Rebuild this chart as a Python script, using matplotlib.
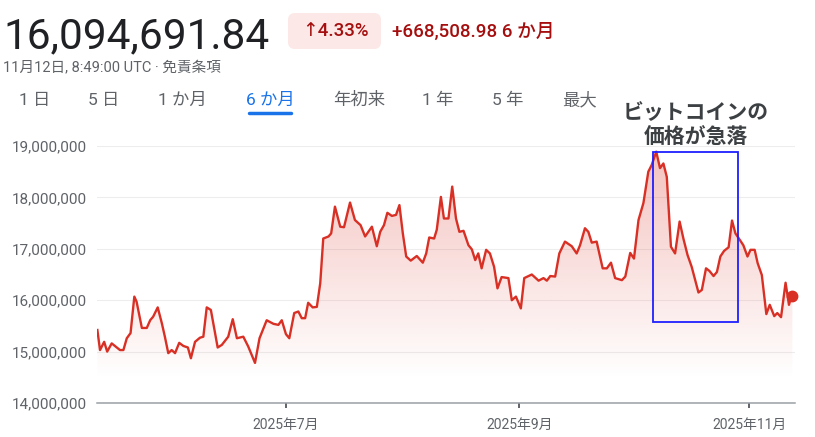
import matplotlib
matplotlib.use("Agg")
import matplotlib.pyplot as plt
import matplotlib.dates as mdates
import numpy as np
import pandas as pd
from matplotlib.patches import FancyBboxPatch, Rectangle
from matplotlib.transforms import IdentityTransform

plt.rcParams['font.family'] = ['Roboto', 'Noto Sans CJK JP', 'DejaVu Sans']

# ---------------- data ----------------
START_DATE = "2025-05-12"
# days since START_DATE
days = [0.1, 0.8, 1.9, 2.7, 3.9, 6.1, 7.0, 7.9, 8.9, 9.9, 10.5, 11.9, 13.2, 14.1, 14.9,
        16.1, 17.2, 18.0, 18.9, 19.8, 20.7, 21.8, 22.9, 24.1, 24.9, 26.0, 27.3, 28.2,
        29.1, 30.2, 32.0, 33.1, 34.8, 36.0, 37.1, 38.8, 40.1, 41.9, 43.1, 45.0, 46.8,
        48.1, 49.0, 50.1, 51.0, 52.3, 53.4, 54.3, 55.2, 56.0, 57.2, 58.3, 59.2, 60.0,
        61.4, 62.1, 63.1, 64.5, 65.5, 67.1, 68.4, 69.9, 71.1, 72.9, 74.2, 75.1, 76.1,
        77.0, 78.2, 79.3, 80.2, 81.1, 82.0, 83.2, 84.8, 86.4, 87.3, 88.1, 89.4, 90.1,
        91.2, 92.0, 93.2, 94.2, 95.2, 96.1, 97.2, 98.5, 99.4, 100.3, 101.1, 102.0,
        103.2, 104.2, 105.3, 106.2, 107.3, 109.1, 110.0, 111.1, 112.4, 113.3, 115.3,
        117.1, 118.4, 119.3, 120.2, 121.5, 122.6, 124.1, 125.9, 127.2, 128.1, 129.4,
        130.3, 131.2, 132.5, 134.1, 135.2, 136.3, 137.4, 139.2, 140.1, 141.4, 142.4,
        143.6, 144.9, 146.2, 147.1, 148.3, 149.3, 150.2, 151.1, 152.2, 153.3, 154.5,
        155.5, 156.6, 157.7, 159.5, 160.4, 161.5, 162.4, 163.5, 164.4, 165.3, 166.3,
        167.5, 168.4, 169.3, 170.2, 171.4, 172.5, 173.3, 174.4, 175.2, 176.3, 177.5,
        178.4, 179.6, 180.4, 181.4, 182.6, 183.5, 184.0, 184.4]
# price in millions
prices_m = [15.42, 15.03, 15.19, 15.00, 15.16, 15.03, 15.03, 15.26, 15.36, 16.07, 15.97,
            15.46, 15.46, 15.61, 15.68, 15.86, 15.55, 15.29, 14.97, 15.03, 14.97, 15.17,
            15.11, 15.08, 14.87, 15.19, 15.27, 15.29, 15.86, 15.81, 15.08, 15.13, 15.29,
            15.63, 15.26, 15.29, 15.10, 14.78, 15.26, 15.61, 15.54, 15.52, 15.61, 15.34,
            15.26, 15.75, 15.78, 15.65, 15.65, 15.95, 15.86, 15.87, 16.33, 17.20, 17.24,
            17.30, 17.82, 17.43, 17.42, 17.90, 17.56, 17.46, 17.24, 17.43, 17.05, 17.33,
            17.46, 17.70, 17.64, 17.66, 17.85, 17.30, 16.85, 16.77, 16.86, 16.73, 16.91,
            17.22, 17.20, 17.37, 18.01, 17.59, 17.59, 18.21, 17.59, 17.33, 17.35, 17.07,
            16.99, 16.78, 16.91, 16.62, 16.98, 16.91, 16.65, 16.23, 16.45, 16.43, 16.00,
            16.07, 15.84, 16.43, 16.50, 16.38, 16.43, 16.38, 16.47, 16.46, 16.91, 17.14,
            17.05, 16.91, 17.07, 17.40, 17.33, 17.12, 17.14, 16.62, 16.62, 16.73, 16.43,
            16.39, 16.46, 16.92, 16.81, 17.56, 17.89, 18.50, 18.63, 18.89, 18.57, 18.66,
            18.40, 17.04, 16.91, 17.53, 17.20, 16.88, 16.65, 16.15, 16.20, 16.62, 16.57,
            16.47, 16.55, 16.85, 16.96, 17.03, 17.55, 17.30, 17.20, 17.07, 16.85, 16.98,
            16.98, 16.72, 16.49, 15.73, 15.91, 15.69, 15.75, 15.67, 16.34, 15.91, 16.04,
            16.09]

y_ticks = [14_000_000, 15_000_000, 16_000_000, 17_000_000, 18_000_000, 19_000_000]
x_tick_dates = ["2025-07-01", "2025-09-01", "2025-11-01"]
x_tick_labels = ["2025年7月", "2025年9月", "2025年11月"]

price_text = "16,094,691.84"
change_pct_text = "↑4.33%"
change_abs_text = "+668,508.98 6 か月"
subtitle_text = "11月12日, 8:49:00 UTC · 免責条項"
tabs = ["1 日", "5 日", "1 か月", "6 か月", "年初来", "1 年", "5 年", "最大"]
selected_tab = "6 か月"
annotation_lines = ["ビットコインの", "価格が急落"]
# highlight box (days since start, price range)
box_days = (147.4, 169.9)
box_prices = (15_580_000, 18_890_000)

# ---------------- style ----------------
W, H = 815, 437
RED = "#d93025"
GRAY = "#5f6368"

fig = plt.figure(figsize=(W / 100, H / 100), dpi=100)
fig.patch.set_facecolor("white")

start = pd.Timestamp(START_DATE)
dates = start + pd.to_timedelta(days, unit="D")
x = mdates.date2num(dates.to_pydatetime())
prices = np.array(prices_m) * 1e6

ax = fig.add_axes([97 / W, (H - 403) / H, 698 / W, 257 / H])
x0 = mdates.date2num(start.to_pydatetime())
x1 = mdates.date2num((start + pd.Timedelta(days=185.1)).to_pydatetime())
ylo, yhi = 14_000_000, 19_000_000

# gradient fill under line
ny = 300
yy = np.linspace(ylo, yhi, ny)
alpha = np.clip((yy - 14.45e6) / (19e6 - 14.45e6), 0, 1) * 0.30
img = np.zeros((ny, 1, 4))
img[:, 0, 0] = 217 / 255
img[:, 0, 1] = 48 / 255
img[:, 0, 2] = 37 / 255
img[:, 0, 3] = alpha
im = ax.imshow(img, extent=[x0, x1, ylo, yhi], origin="lower", aspect="auto",
               zorder=1, interpolation="bilinear")
poly = ax.fill_between(x, prices, ylo, facecolor="none", edgecolor="none")
im.set_clip_path(poly.get_paths()[0], transform=ax.transData)

ax.plot(x, prices, color=RED, lw=1.7, solid_joinstyle="round", zorder=3)
ax.plot(x[-1], prices[-1], "o", ms=7.5, color=RED, zorder=4, clip_on=False)

# highlight box
bx0 = mdates.date2num((start + pd.Timedelta(days=box_days[0])).to_pydatetime())
bx1 = mdates.date2num((start + pd.Timedelta(days=box_days[1])).to_pydatetime())
ax.add_patch(Rectangle((bx0, box_prices[0]), bx1 - bx0, box_prices[1] - box_prices[0],
                       fill=False, edgecolor="#1f1fff", lw=1.3, zorder=5))

ax.set_xlim(x0, x1)
ax.set_ylim(ylo, yhi)

ax.set_yticks(y_ticks)
ax.set_yticklabels([f"{v:,}" for v in y_ticks])
ax.set_xticks([mdates.date2num(pd.Timestamp(d).to_pydatetime()) for d in x_tick_dates])
ax.set_xticklabels(x_tick_labels)

for s in ["top", "right", "left"]:
    ax.spines[s].set_visible(False)
ax.spines["bottom"].set_color("#9aa0a6")
ax.spines["bottom"].set_linewidth(1.1)
ax.yaxis.grid(True, color="#ededed", lw=0.8)
ax.set_axisbelow(True)
ax.tick_params(axis="y", length=0, pad=7, labelsize=11, labelcolor=GRAY)
ax.tick_params(axis="x", length=3.6, width=1.4, color=GRAY, pad=7.5, labelsize=10,
               labelcolor=GRAY)
ax.set_facecolor("none")


def fx(px):
    return px / W


def fy(py):
    return 1 - py / H


# header
fig.text(fx(3), fy(48), price_text, fontsize=30.5, color="#202124", va="baseline",
         ha="left")
badge = FancyBboxPatch((288, H - 49), 93, 36, boxstyle="round,pad=0,rounding_size=7",
                       transform=IdentityTransform(), facecolor="#fce8e6",
                       edgecolor="none", figure=fig)
fig.patches.append(badge)
fig.text(fx(335), fy(31.5), change_pct_text, fontsize=13.5, color="#a50e0e",
         ha="center", va="center", fontweight="medium",
         family=["Roboto", "DejaVu Sans"])
fig.text(fx(392), fy(31.5), change_abs_text, fontsize=13.5, color="#a50e0e",
         ha="left", va="center", fontweight="medium")
fig.text(fx(3), fy(68.5), subtitle_text, fontsize=10.5, color=GRAY, ha="left",
         va="center")

tab_centers = [35, 104, 182, 270, 359, 438, 508, 580]
for t, cx in zip(tabs, tab_centers):
    col = "#1a73e8" if t == selected_tab else GRAY
    fig.text(fx(cx), fy(100), t, fontsize=12.5, color=col, ha="center", va="center")
sel = tab_centers[tabs.index(selected_tab)]
fig.add_artist(plt.Line2D([fx(sel - 21), fx(sel + 21)], [fy(112.5), fy(112.5)],
                          transform=fig.transFigure, color="#1a73e8", lw=2.5,
                          solid_capstyle="round"))

# annotation
fig.text(fx(696), fy(113), annotation_lines[0], fontsize=15, color="#3c4043",
         ha="center", va="center", fontweight="bold")
fig.text(fx(696), fy(138), annotation_lines[1], fontsize=15, color="#3c4043",
         ha="center", va="center", fontweight="bold")

fig.savefig("out.png", dpi=100, facecolor="white")
